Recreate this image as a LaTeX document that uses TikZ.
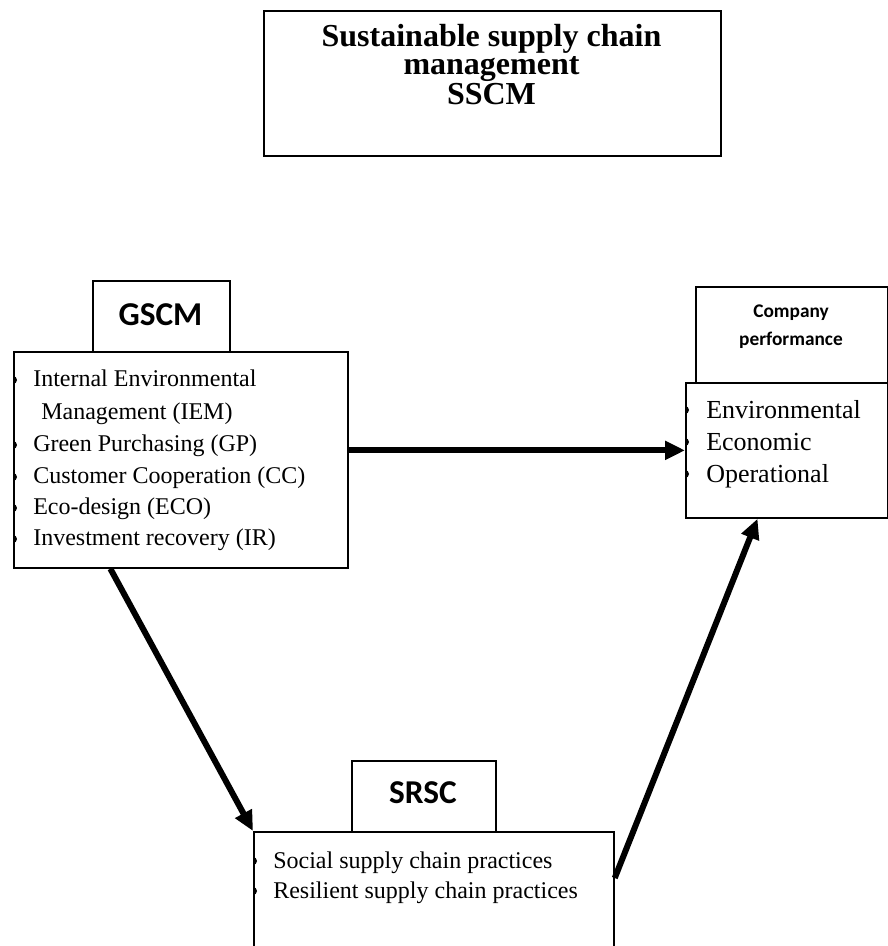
\documentclass[tikz,border=0pt]{standalone}
\usepackage{fontspec}
\setmainfont{Liberation Serif}
\newfontfamily\calfont{Carlito}
\usetikzlibrary{arrows.meta,calc}
\begin{document}
\begin{tikzpicture}[x=0.75pt,y=-0.75pt,
  box/.style={draw, line width=1.3pt, inner sep=0pt, anchor=north west},
  txt/.style={anchor=base west, inner sep=0pt, font=\fontsize{18}{20}\selectfont},
  cptxt/.style={anchor=base west, inner sep=0pt, font=\fontsize{19.5}{22}\selectfont},
  lab/.style={anchor=base, inner sep=0pt, font=\calfont\bfseries\fontsize{25}{28}\selectfont},
  smalllab/.style={anchor=base, inner sep=0pt, font=\calfont\bfseries\fontsize{14.5}{16}\selectfont},
  ttl/.style={anchor=north, inner sep=0pt, align=center, font=\bfseries\fontsize{24}{21}\selectfont},
  arr/.style={line width=4.5pt, -{Triangle[length=15pt,width=13.5pt]}},
  bul/.style={fill=black}
]
\clip (0,0) rectangle (888,946);
\fill[white] (0,0) rectangle (888,946);

% boxes
\node[box, minimum width={457*0.75pt}, minimum height={145*0.75pt}] (top) at (263,10) {};
\node[box, minimum width={137*0.75pt}, minimum height={71*0.75pt}] (gscmlab) at (92,280) {};
\node[box, minimum width={334*0.75pt}, minimum height={216*0.75pt}] (gscm) at (13,351) {};
\node[box, minimum width={192*0.75pt}, minimum height={96*0.75pt}] (cplab) at (695,286) {};
\node[box, minimum width={202*0.75pt}, minimum height={135*0.75pt}] (cp) at (685,382) {};
\node[box, minimum width={144*0.75pt}, minimum height={71*0.75pt}] (srsclab) at (351,760) {};
\node[box, minimum width={360*0.75pt}, minimum height={200*0.75pt}] (srsc) at (253,831) {};

% title
\node[ttl] (title) at (491.5,24.5) {Sustainable supply chain\\management\\SSCM};

% labels
\node[lab] (gl) at (160.5,325) {GSCM};
\node[lab] (sl) at (423,803) {SRSC};
\node[smalllab] (cl1) at (791,317) {Company};
\node[smalllab] (cl2) at (791,345) {performance};

% GSCM items
\node[txt] (g1) at (33,386) {Internal Environmental};
\node[txt] (g2) at (41,419) {Management (IEM)};
\node[txt] (g3) at (33,451) {Green Purchasing (GP)};
\node[txt] (g4) at (33,483) {Customer Cooperation (CC)};
\node[txt] (g5) at (33,514) {Eco-design (ECO)};
\node[txt] (g6) at (33,545) {Investment recovery (IR)};
\begin{scope}
  \clip (13,351) rectangle (347,567);
  \foreach \yc in {380,445,477,508,539}
    \fill[bul] (13,\yc) circle[radius=3pt];
\end{scope}

% company items
\node[cptxt] (c1) at (706,418) {Environmental};
\node[cptxt] (c2) at (706,450) {Economic};
\node[cptxt] (c3) at (706,482) {Operational};
\begin{scope}
  \clip (685,382) rectangle (887,517);
  \foreach \yc in {410,442,474}
    \fill[bul] (685,\yc) circle[radius=3pt];
\end{scope}

% SRSC items
\node[txt] (s1) at (273,868) {Social supply chain practices};
\node[txt] (s2) at (273,898) {Resilient supply chain practices};
\begin{scope}
  \clip (253,831) rectangle (613,946);
  \foreach \yc in {861,891}
    \fill[bul] (253,\yc) circle[radius=3pt];
\end{scope}

% arrows
\draw[arr] (gscm.east |- cp.west) -- (cp.west);
\draw[arr] ($(gscm.south west)!0.29!(gscm.south east)$) -- (srsc.north west);
\draw[arr] ($(srsc.north east)+(0,47)$) -- ($(cp.south west)!0.356!(cp.south east)$);
\end{tikzpicture}
\end{document}
